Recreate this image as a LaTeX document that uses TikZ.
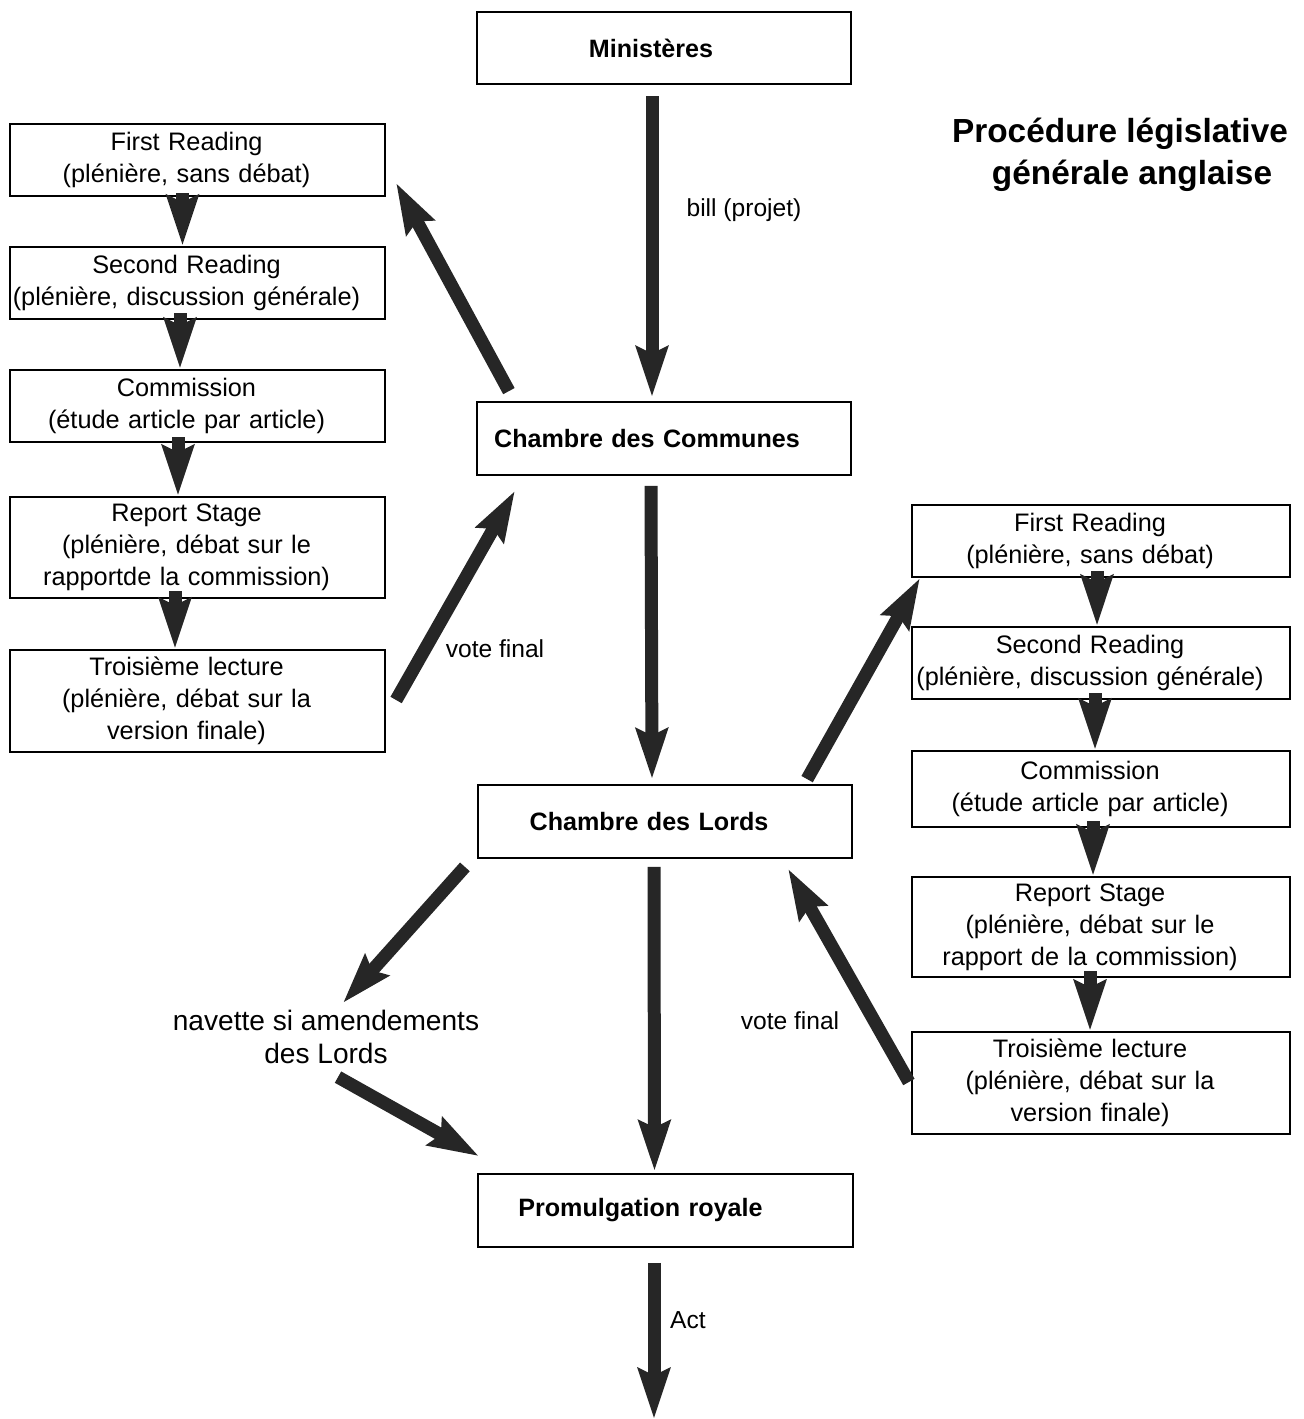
\documentclass[tikz,border=0pt]{standalone}
\usepackage{fontspec}
\setmainfont{Liberation Sans}
\usetikzlibrary{arrows.meta,calc}

\begin{document}
\begin{tikzpicture}[x=0.02cm, y=-0.02cm,
                    every node/.style = {font=\fontsize{14}{17.6}\selectfont},
                    stage/.style = {draw, line width=1.3pt, text width=7.5cm, align=center, inner sep=0pt,
                                    font=\fontsize{14.4}{18.1}\selectfont,
                                    execute at begin node={\advance\rightskip by 0.44cm}},
                    chamber/.style = {draw, line width=1.3pt, text width=7.48cm, align=center, inner sep=0pt,
                                      minimum height=1.45cm, font=\fontsize{14.3}{17.6}\selectfont\bfseries,
                                      execute at begin node={\advance\rightskip by #1}},
                    fat/.style = {draw=black!85, line width=0.26cm, -{Stealth[length=1cm, width=0.62cm, inset=0.13cm]}}]

\useasboundingbox (0,0) rectangle (1304,1419);

% chambers
\node [chamber=0.52cm] (ministeres) at (664,48) {Ministères};
\node [chamber=0.68cm] (communes) at (664,438.5) {Chambre des Communes};
\node [chamber=0.64cm] (lords) at (665,821.5) {Chambre des Lords};
\node [chamber=1.0cm, text width=7.5cm] (promulgation) at (665.5,1210.5) {Promulgation royale};
\coordinate (act end) at (654,1419);

% stages in the Communes
\node [stage, minimum height=1.44cm] (C1) at (197.5,160) {First Reading\\(plénière, sans débat)};
\node [stage, minimum height=1.44cm] (C2) at (197.5,283) {Second Reading\\(plénière, discussion générale)};
\node [stage, minimum height=1.44cm] (C3) at (197.5,406) {Commission\\(étude article par article)};
\node [stage, minimum height=2.02cm] (C4) at (197.5,547.5) {Report Stage\\(plénière, débat sur le\\rapportde la commission)};
\node [stage, minimum height=2.04cm] (C5) at (197.5,701) {Troisième lecture\\(plénière, débat sur la\\version finale)};

% stages in the Lords
\node [stage, minimum height=1.44cm, text width=7.56cm] (L1) at (1101,541) {First Reading\\(plénière, sans débat)};
\node [stage, minimum height=1.44cm, text width=7.56cm] (L2) at (1101,663) {Second Reading\\(plénière, discussion générale)};
\node [stage, minimum height=1.52cm, text width=7.56cm] (L3) at (1101,789) {Commission\\(étude article par article)};
\node [stage, minimum height=2.0cm, text width=7.56cm] (L4) at (1101,927) {Report Stage\\(plénière, débat sur le\\rapport de la commission)};
\node [stage, minimum height=2.04cm, text width=7.56cm] (L5) at (1101,1083) {Troisième lecture\\(plénière, débat sur la\\version finale)};

% labels
\node (bill) at (744,210) {bill (projet)};
\node (vote C) at (495,649) {vote final};
\node (vote L) at (790,1021) {vote final};
\node (navette) at (326,1037)[align=center, inner sep=0pt, font=\fontsize{16}{18.7}\selectfont]{navette si amendements\\des Lords};
\node (act) at (688,1320) {Act};
\node (title) at (1120,155)[align=center, font=\fontsize{19}{23.8}\selectfont\bfseries]{Procédure législative\\\hspace*{0.48cm}générale anglaise};

% main line
\draw [fat] ($(ministeres.south)+(-12,11)$) -- ($(communes.north)+(-12,-4)$);
\draw [fat] ($(communes.south)+(-13,10)$) -- ($(lords.north)+(-13,-5)$);
\draw [fat] ($(lords.south)+(-11,8)$) -- ($(promulgation.north)+(-11,-2)$);
\draw [fat] ($(promulgation.south)+(-11.5,15)$) -- (act end);

% Communes
\draw [fat] ($(communes.north west)+(33,-10)$) -- ($(C1.east)+(10,23)$);
\draw [fat] ($(C1.south)+(-15,-4)$) -- ($(C2.north)+(-15,0)$);
\draw [fat] ($(C2.south)+(-17.5,-7)$) -- ($(C3.north)+(-17.5,0)$);
\draw [fat] ($(C3.south)+(-19.5,-6)$) -- ($(C4.north)+(-19.5,0)$);
\draw [fat] ($(C4.south)+(-22.5,-8)$) -- ($(C5.north)+(-22.5,0)$);
\draw [fat] ($(C5.east)+(10,-1)$) -- ($(communes.south west)+(39,15)$);

% Lords
\draw [fat] ($(lords.north east)+(-46,-5)$) -- ($(L1.south west)+(9,0)$);
\draw [fat] ($(L1.south)+(-4,-7)$) -- ($(L2.north)+(-4,0)$);
\draw [fat] ($(L2.south)+(-6,-7)$) -- ($(L3.north)+(-6,0)$);
\draw [fat] ($(L3.south)+(-8,-7)$) -- ($(L4.north)+(-8,0)$);
\draw [fat] ($(L4.south)+(-11,-7)$) -- ($(L5.north)+(-11,0)$);
\draw [fat] ($(L5.west)+(-2,-1)$) -- ($(lords.south east)+(-65,10)$);

% navette
\draw [fat] ($(lords.south west)+(-12,8)$) -- ($(navette.north)+(17,-7)$);
\draw [fat] ($(navette.south)+(12,13)$) -- ($(promulgation.north west)+(2,-17)$);
\end{tikzpicture}
\end{document}
